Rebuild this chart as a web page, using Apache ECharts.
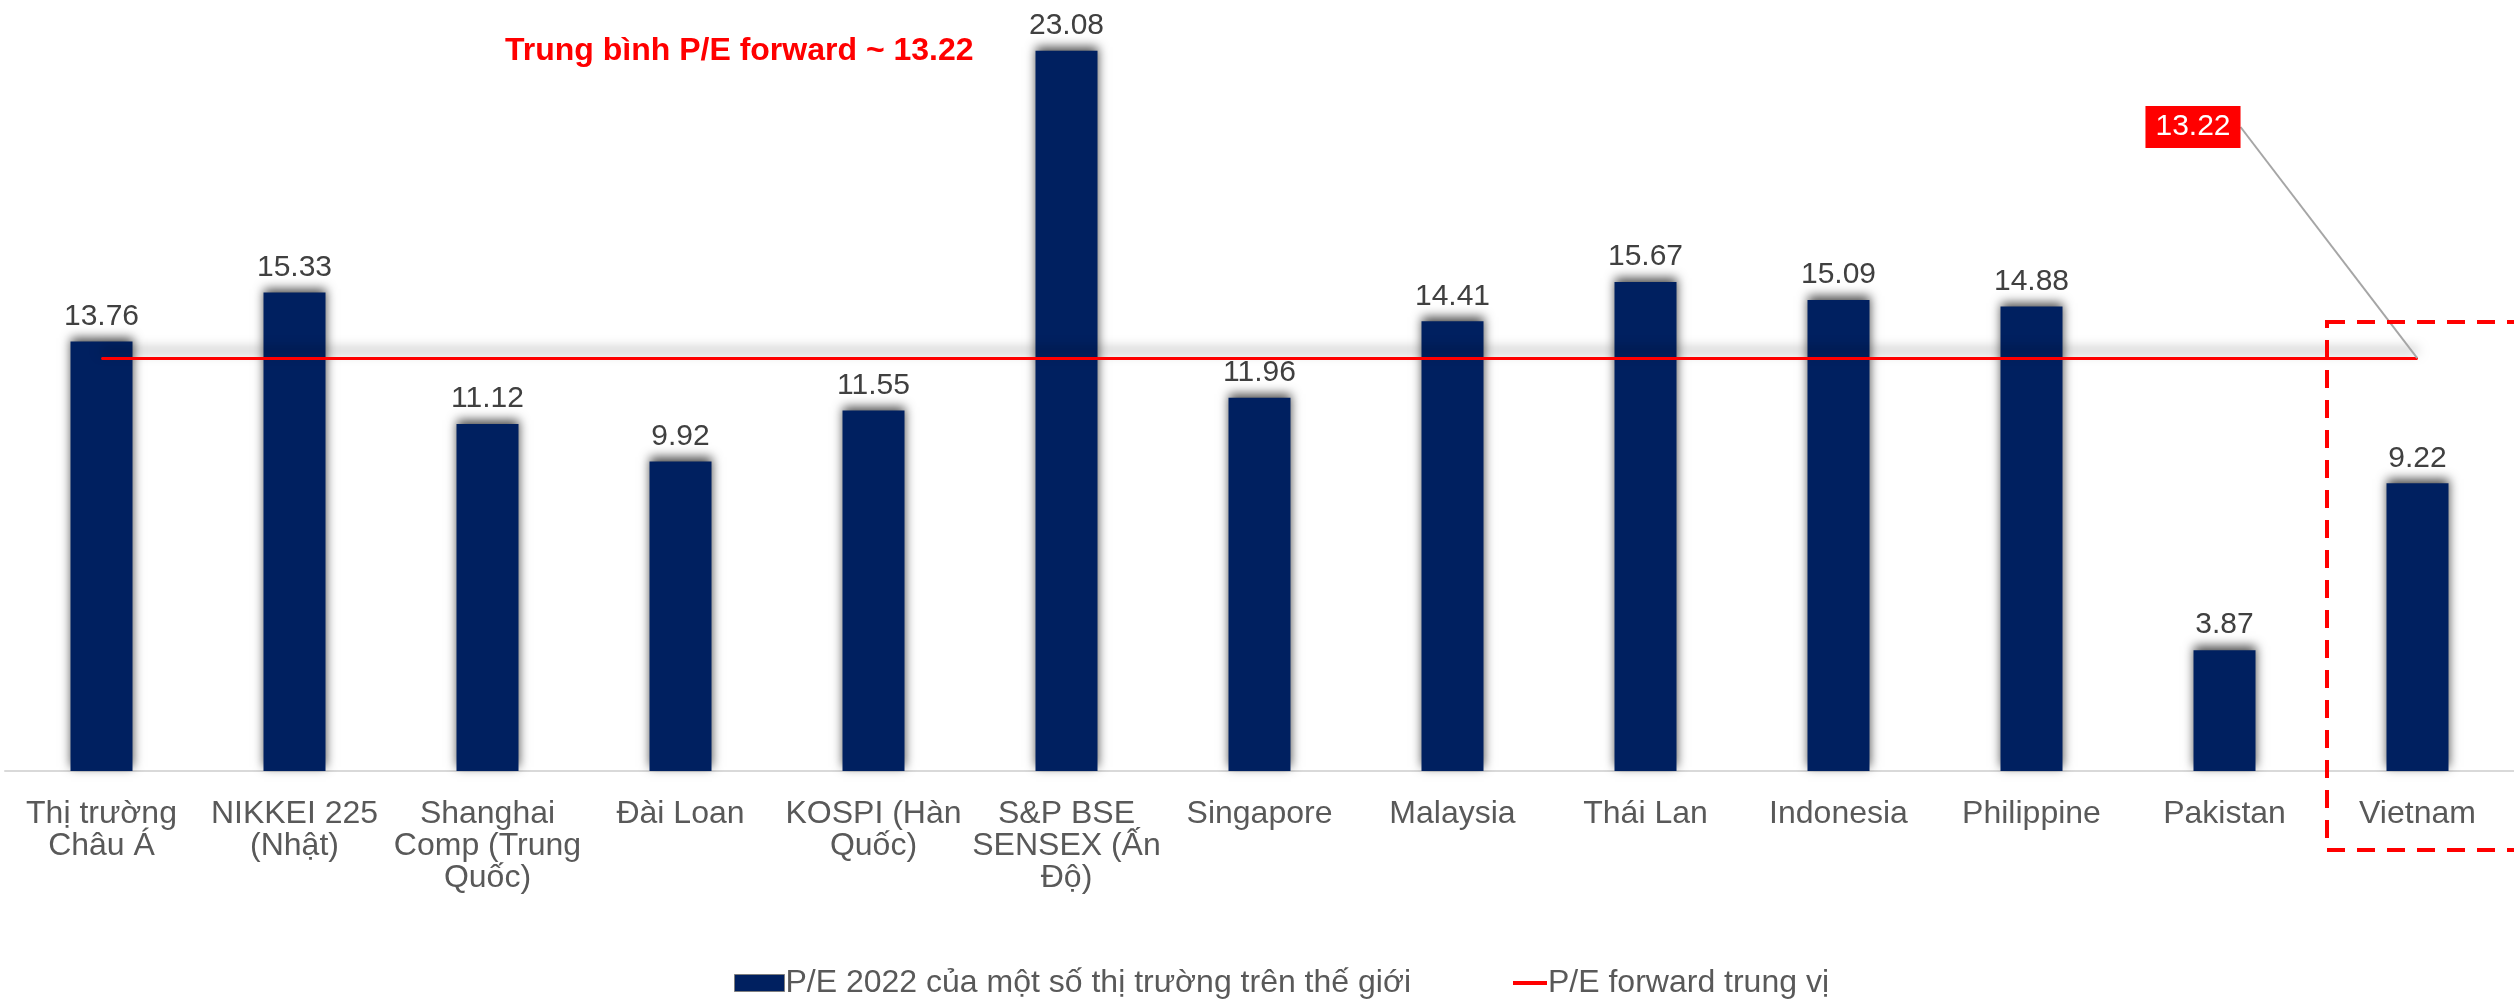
<!DOCTYPE html>
<html>
<head>
<meta charset="utf-8">
<script src="https://cdn.jsdelivr.net/npm/echarts@6/dist/echarts.min.js"></script>
<style>
  html, body { margin: 0; padding: 0; background: #fff; }
  #chart { width: 2514px; height: 1000px; }
</style>
</head>
<body>
<div id="chart"></div>
<script>
// Danh mục thị trường
const categories = [
  'Thị trường\nChâu Á',
  'NIKKEI 225\n(Nhật)',
  'Shanghai\nComp (Trung\nQuốc)',
  'Đài Loan',
  'KOSPI (Hàn\nQuốc)',
  'S&P BSE\nSENSEX (Ấn\nĐộ)',
  'Singapore',
  'Malaysia',
  'Thái Lan',
  'Indonesia',
  'Philippine',
  'Pakistan',
  'Vietnam'
];
// P/E 2022
const peValues = [13.76, 15.33, 11.12, 9.92, 11.55, 23.08, 11.96, 14.41, 15.67, 15.09, 14.88, 3.87, 9.22];
// P/E forward trung vị
const medianValues = [13.22, 13.22, 13.22, 13.22, 13.22, 13.22, 13.22, 13.22, 13.22, 13.22, 13.22, 13.22, 13.22];

const barName = 'P/E 2022 của một số thị trường trên thế giới';
const lineName = 'P/E forward trung vị';
const fontFamily = '"Liberation Sans", Arial, sans-serif';

const chart = echarts.init(document.getElementById('chart'));
const lastIdx = medianValues.length - 1;

const option = {
  backgroundColor: '#fff',
  animation: false,
  title: {
    text: 'Trung bình P/E forward ~ 13.22',
    left: 500,
    top: 30,
    textStyle: { color: '#FF0000', fontSize: 32, fontWeight: 'bold', fontFamily: fontFamily }
  },
  legend: [
    {
      data: [{ name: barName, icon: 'rect' }],
      left: 729,
      top: 962,
      itemWidth: 50,
      itemHeight: 17,
      itemGap: 4,
      itemStyle: { borderColor: '#7F7F7F', borderWidth: 1 },
      textStyle: { color: '#595959', fontSize: 32, fontFamily: fontFamily, padding: [0, 0, 0, -4] }
    },
    {
      data: [{ name: lineName, icon: 'rect' }],
      left: 1508,
      top: 962,
      itemWidth: 34,
      itemHeight: 4,
      textStyle: { color: '#595959', fontSize: 32, fontFamily: fontFamily, padding: [0, 0, 0, -4] }
    }
  ],
  grid: { left: 5, right: 0, top: 22, bottom: 229, containLabel: false },
  xAxis: {
    type: 'category',
    data: categories,
    axisTick: { show: false },
    axisLine: { lineStyle: { color: '#D9D9D9', width: 2 } },
    axisLabel: {
      color: '#595959',
      fontSize: 32,
      fontFamily: fontFamily,
      lineHeight: 32,
      margin: 27,
      interval: 0
    }
  },
  yAxis: {
    type: 'value',
    min: 0,
    max: 24,
    show: false,
    splitLine: { show: false }
  },
  series: [
    {
      name: barName,
      type: 'bar',
      data: peValues,
      barWidth: 62,
      itemStyle: {
        color: '#002060',
        shadowColor: 'rgba(0,0,0,0.7)',
        shadowBlur: 10,
        shadowOffsetY: -4
      },
      label: {
        show: true,
        position: 'top',
        distance: 10,
        color: '#404040',
        fontSize: 30,
        fontFamily: fontFamily
      }
    },
    {
      name: lineName,
      type: 'line',
      data: medianValues.map((v, i) => i === lastIdx ? {
        value: v,
        label: {
          show: true,
          formatter: '{c}',
          backgroundColor: '#FF0000',
          color: '#fff',
          fontSize: 30,
          fontFamily: fontFamily,
          padding: [7, 10, 5, 10]
        }
      } : v),
      symbol: 'circle',
      symbolSize: 1,
      showSymbol: true,
      z: 3,
      lineStyle: {
        color: '#FF0000',
        width: 3,
        shadowColor: 'rgba(0,0,0,0.5)',
        shadowBlur: 12,
        shadowOffsetY: -8
      },
      itemStyle: { color: '#FF0000' },
      label: { show: false },
      labelLayout: { x: 2193, y: 127, align: 'center', verticalAlign: 'middle' },
      labelLine: { show: true, lineStyle: { color: '#A6A6A6', width: 2 } }
    }
  ],
  graphic: [
    {
      type: 'rect',
      shape: { x: 2327, y: 322, width: 210, height: 528 },
      style: { fill: 'none', stroke: '#FF0000', lineWidth: 4, lineDash: [18, 12] },
      z: 10
    }
  ]
};

chart.setOption(option);
</script>
</body>
</html>
